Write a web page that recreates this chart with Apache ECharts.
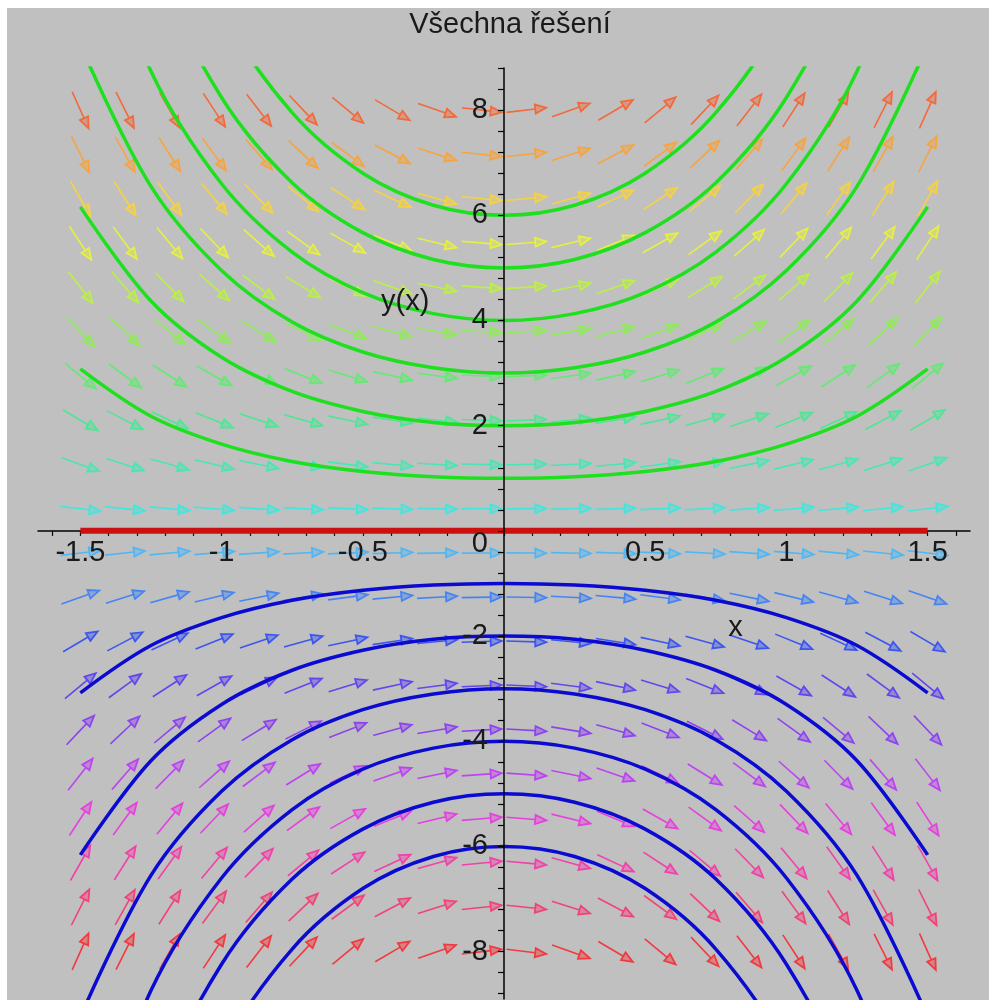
<!DOCTYPE html>
<html>
<head>
<meta charset="utf-8">
<script src="https://cdn.jsdelivr.net/npm/echarts@6/dist/echarts.min.js"></script>
<style>
html,body{margin:0;padding:0;background:#ffffff;}
#chart{width:989px;height:1000px;}
</style>
</head>
<body>
<div id="chart"></div>
<script>
// ---- Data ----
const titleText = 'Všechna řešení';
const xAxisName = 'x';
const yAxisName = 'y(x)';

// direction-field grid (20 x 20) for y' = x*y
const arrowXs = [-1.5, -1.342, -1.184, -1.026, -0.868, -0.711, -0.553, -0.395, -0.237, -0.079,
                 0.079, 0.237, 0.395, 0.553, 0.711, 0.868, 1.026, 1.184, 1.342, 1.5];
const arrowYs = [-8, -7.158, -6.316, -5.474, -4.632, -3.789, -2.947, -2.105, -1.263, -0.421,
                 0.421, 1.263, 2.105, 2.947, 3.789, 4.632, 5.474, 6.316, 7.158, 8];

// solution curves sampled at curveXs
const curveXs = [-1.5, -1.25, -1, -0.75, -0.5, -0.25, 0, 0.25, 0.5, 0.75, 1, 1.25, 1.5];
const solP1 = [3.08, 2.18, 1.65, 1.32, 1.13, 1.03, 1.00, 1.03, 1.13, 1.32, 1.65, 2.18, 3.08];
const solP2 = [6.16, 4.37, 3.30, 2.65, 2.27, 2.06, 2.00, 2.06, 2.27, 2.65, 3.30, 4.37, 6.16];
const solP3 = [9.24, 6.55, 4.95, 3.97, 3.40, 3.10, 3.00, 3.10, 3.40, 3.97, 4.95, 6.55, 9.24];
const solP4 = [12.32, 8.74, 6.60, 5.30, 4.53, 4.13, 4.00, 4.13, 4.53, 5.30, 6.60, 8.74, 12.32];
const solP5 = [15.40, 10.92, 8.24, 6.62, 5.67, 5.16, 5.00, 5.16, 5.67, 6.62, 8.24, 10.92, 15.40];
const solP6 = [18.48, 13.10, 9.89, 7.95, 6.80, 6.19, 6.00, 6.19, 6.80, 7.95, 9.89, 13.10, 18.48];
const solN1 = [-3.08, -2.18, -1.65, -1.32, -1.13, -1.03, -1.00, -1.03, -1.13, -1.32, -1.65, -2.18, -3.08];
const solN2 = [-6.16, -4.37, -3.30, -2.65, -2.27, -2.06, -2.00, -2.06, -2.27, -2.65, -3.30, -4.37, -6.16];
const solN3 = [-9.24, -6.55, -4.95, -3.97, -3.40, -3.10, -3.00, -3.10, -3.40, -3.97, -4.95, -6.55, -9.24];
const solN4 = [-12.32, -8.74, -6.60, -5.30, -4.53, -4.13, -4.00, -4.13, -4.53, -5.30, -6.60, -8.74, -12.32];
const solN5 = [-15.40, -10.92, -8.24, -6.62, -5.67, -5.16, -5.00, -5.16, -5.67, -6.62, -8.24, -10.92, -15.40];
const solN6 = [-18.48, -13.10, -9.89, -7.95, -6.80, -6.19, -6.00, -6.19, -6.80, -7.95, -9.89, -13.10, -18.48];
const solZero = [0, 0, 0, 0, 0, 0, 0, 0, 0, 0, 0, 0, 0];

// tick labels
const xLabelValues = [-1.5, -1, -0.5, 0.5, 1, 1.5];
const yLabelValues = [-8, -6, -4, -2, 0, 2, 4, 6, 8];

// ---- the ODE being drawn: y' = x*y ----
function slope(x, y) { return x * y; }

// ---- styles ----
const rowColors = ['#f03a40', '#f04478', '#f042a8', '#e442dc', '#bc44f0', '#8c44ee', '#6048ec', '#3c56ee', '#4684f2', '#52b6f2',
                   '#42e6dc', '#48e6b4', '#4ce694', '#62ea72', '#8cee52', '#bcf044', '#e6f040', '#f6d240', '#f6a440', '#f26a3c'];
const posColor = '#1ee01e';
const negColor = '#0a0ad0';
const zeroColor = '#cc1010';
const FONT = '"Liberation Sans", Arial, sans-serif';

function ticks(a, b, step) {
  const out = [];
  const n = Math.round((b - a) / step);
  for (let i = 0; i <= n; i++) out.push(Math.round((a + i * step) * 100) / 100);
  return out;
}

const arrowData = [];
arrowYs.forEach((y, r) => arrowXs.forEach(x => arrowData.push([x, y, r])));

function curve(vals) { return curveXs.map((x, i) => [x, vals[i]]); }

const chart = echarts.init(document.getElementById('chart'), null, {renderer: 'canvas'});

const curveSeries = [];
[solP1, solP2, solP3, solP4, solP5, solP6].forEach(v => curveSeries.push({
  type: 'line', data: curve(v), smooth: 0.35, symbol: 'none', clip: true, z: 4,
  lineStyle: {color: posColor, width: 3.5}, silent: true
}));
[solN1, solN2, solN3, solN4, solN5, solN6].forEach(v => curveSeries.push({
  type: 'line', data: curve(v), smooth: 0.35, symbol: 'none', clip: true, z: 4,
  lineStyle: {color: negColor, width: 3.5}, silent: true
}));
curveSeries.push({
  type: 'line', data: curve(solZero), symbol: 'none', clip: true, z: 5,
  lineStyle: {color: zeroColor, width: 6}, silent: true
});

const GRID = {left: 38, right: 19, top: 68, bottom: 1};

const option = {
  backgroundColor: '#c0c0c0',
  animation: false,
  title: {
    text: titleText, left: 505, top: 5, textAlign: 'center',
    textStyle: {fontFamily: FONT, fontSize: 29, fontWeight: 'normal', color: '#1a1a1a'}
  },
  grid: Object.assign({containLabel: false, outerBoundsMode: 'none'}, GRID),
  xAxis: {
    type: 'value', min: -1.65, max: 1.65, z: 3, position: 'bottom', offset: 0,
    splitLine: {show: false},
    axisLine: {onZero: false, lineStyle: {color: '#000', width: 1.5}},
    axisTick: {show: true, length: 5, inside: false, customValues: ticks(-1.6, 1.6, 0.1), lineStyle: {color: '#000', width: 1.2}},
    axisLabel: {customValues: xLabelValues, margin: 8, fontFamily: FONT, fontSize: 29, color: '#1a1a1a',
                formatter: v => String(v)}
  },
  yAxis: {
    type: 'value', min: -8.9, max: 8.8, z: 10, position: 'left', offset: 0,
    splitLine: {show: false},
    axisLine: {onZero: false, lineStyle: {color: '#000', width: 1.5}},
    axisTick: {show: true, length: 6, inside: false, customValues: ticks(-8.8, 8.8, 0.4), lineStyle: {color: '#000', width: 1.2}},
    axisLabel: {customValues: yLabelValues, margin: 16, fontFamily: FONT, fontSize: 29, color: '#1a1a1a',
                formatter: v => v === 0 ? '{z|0}' : String(v),
                rich: {z: {padding: [26, 0, 0, 0], fontFamily: FONT, fontSize: 29, color: '#1a1a1a'}}}
  },
  series: [{
    type: 'custom', data: arrowData, z: 3, silent: true, clip: false,
    renderItem: function (params, api) {
      const x = api.value(0), y = api.value(1), r = api.value(2);
      const c = api.coord([x, y]);
      const s = api.size([1, 1]);
      let dx = s[0], dy = -slope(x, y) * s[1];
      const n = Math.hypot(dx, dy); dx /= n; dy /= n;
      const L = 40, H = 11, W = 4.5;
      const x0 = c[0] - dx * L / 2, y0 = c[1] - dy * L / 2;
      const x1 = c[0] + dx * L / 2, y1 = c[1] + dy * L / 2;
      const bx = x1 - dx * H, by = y1 - dy * H;
      const px = -dy, py = dx;
      const col = rowColors[r];
      return {
        type: 'group', children: [
          {type: 'line', shape: {x1: x0, y1: y0, x2: bx, y2: by}, style: {stroke: col, lineWidth: 1.6}},
          {type: 'polygon', shape: {points: [[x1, y1], [bx + px * W, by + py * W], [bx - px * W, by - py * W]]},
           style: {fill: col, fillOpacity: 0.45, stroke: col, lineWidth: 1.8}}
        ]
      };
    }
  }].concat(curveSeries)
};
chart.setOption(option);

// move the axes so they cross at the origin (Maple "normal" axes)
const origin = chart.convertToPixel({gridIndex: 0}, [0, 0]);
const gridBottomPx = 1000 - GRID.bottom;
const pY = chart.convertToPixel({gridIndex: 0}, [-0.35, 4.35]);
const pX = chart.convertToPixel({gridIndex: 0}, [0.82, -1.85]);
chart.setOption({
  xAxis: {offset: -(gridBottomPx - origin[1])},
  yAxis: {offset: -(origin[0] - GRID.left)},
  graphic: [
    {type: 'rect', left: 0, top: 0, shape: {width: 989, height: 8}, style: {fill: '#ffffff'}, z: 100},
    {type: 'rect', left: 0, top: 0, shape: {width: 7, height: 1000}, style: {fill: '#ffffff'}, z: 100},
    {type: 'text', x: pY[0], y: pY[1], z: 50, style: {text: yAxisName, font: '29px ' + FONT, fill: '#1a1a1a', align: 'center', verticalAlign: 'middle'}},
    {type: 'text', x: pX[0], y: pX[1], z: 50, style: {text: xAxisName, font: '29px ' + FONT, fill: '#1a1a1a', align: 'center', verticalAlign: 'middle'}}
  ]
});
</script>
</body>
</html>
